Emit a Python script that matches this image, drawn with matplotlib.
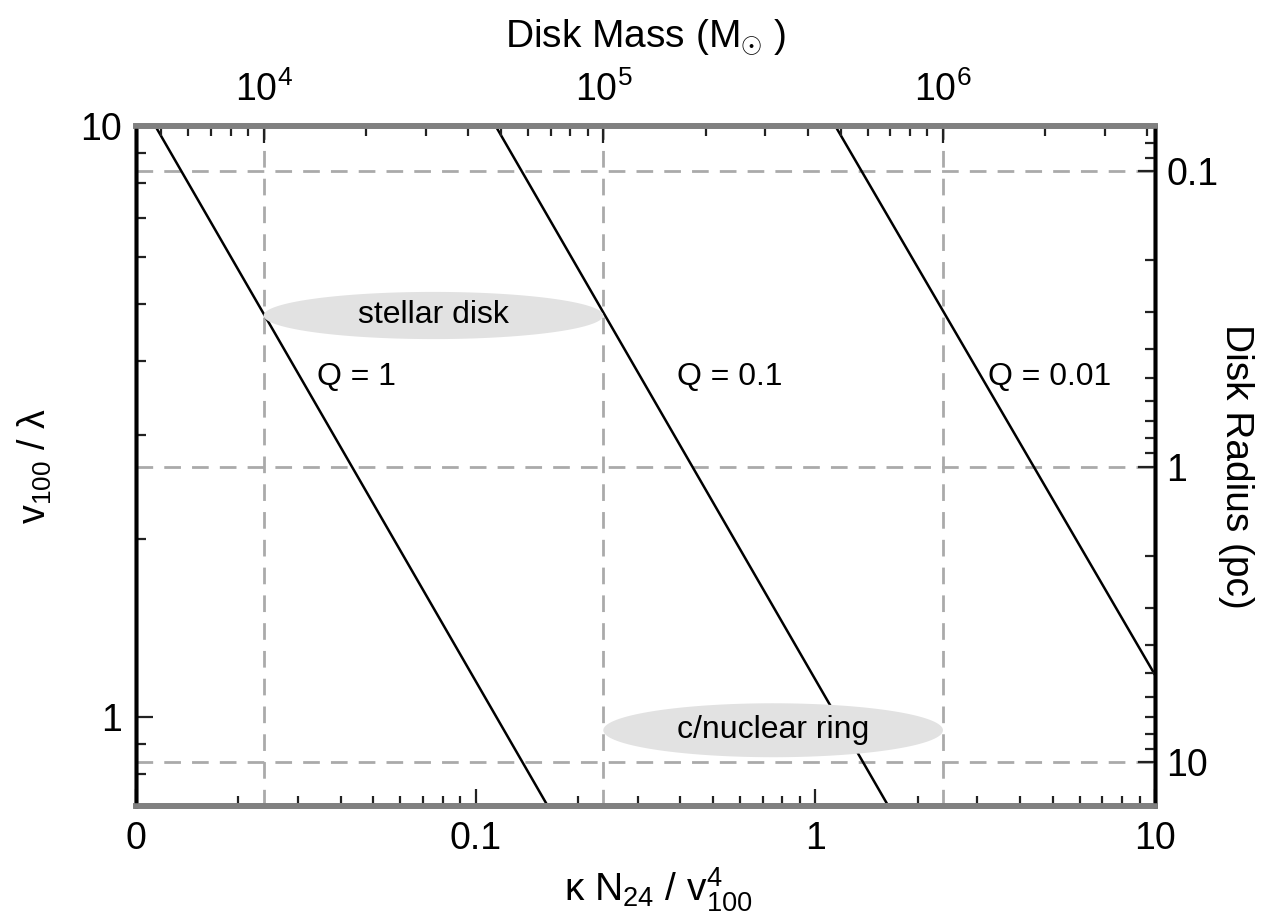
import numpy as np
import matplotlib
matplotlib.use("Agg")
import matplotlib.pyplot as plt
from matplotlib.ticker import NullFormatter, LogLocator

plt.rcParams['font.family'] = ['Liberation Sans', 'DejaVu Sans']
plt.rcParams['mathtext.fontset'] = 'custom'
plt.rcParams['mathtext.rm'] = 'Liberation Sans'
plt.rcParams['mathtext.it'] = 'Liberation Sans'
plt.rcParams['mathtext.bf'] = 'Liberation Sans:bold'

# ---- data ----
q_labels = ["Q = 1", "Q = 0.1", "Q = 0.01"]
q1_x = [0.0114, 0.163]
q1_y = [10.0, 0.707]
q01_x = [0.1145, 1.64]
q01_y = [10.0, 0.707]
q001_x = [1.145, 10.0]
q001_y = [10.0, 1.178]
q_label_x = [0.0447, 0.56, 4.91]
q_label_y = [3.76, 3.76, 3.76]

x_lim = (0.01, 10)
y_lim = (0.707, 10)
x_ticks = [0.01, 0.1, 1, 10]
x_ticklabels = ["0", "0.1", "1", "10"]
y_ticks = [1, 10]
y_ticklabels = ["1", "10"]

mass_ticks = [1e4, 1e5, 1e6]
mass_ticklabels = ["$10^4$", "$10^5$", "$10^6$"]
mass_per_x = 4.21e5          # disk mass per unit of x
radius_ticks = [0.1, 1, 10]
radius_ticklabels = ["0.1", "1", "10"]
radius_const = 2.65          # R = (radius_const / y)^2

regions = ["stellar disk", "c/nuclear ring"]
region_mass = [(1e4, 1e5), (1e5, 1e6)]    # extent in disk mass
region_y = [(4.36, 5.24), (0.855, 1.055)]  # extent in v/lambda

FS = 27
TICKC = '#222222'

# ---- figure ----
fig = plt.figure(figsize=(12.77, 9.24), dpi=100)
ax = fig.add_axes([0.1065, 0.1277, 0.798, 0.7359])
ax.set_xscale('log')
ax.set_yscale('log')
ax.set_xlim(*x_lim)
ax.set_ylim(*y_lim)

grid_kw = dict(color='#aaaaaa', lw=2.0, dashes=(6, 4), zorder=1)
for m in mass_ticks:
    ax.axvline(m / mass_per_x, **grid_kw)
for r in radius_ticks:
    ax.axhline(radius_const / np.sqrt(r), **grid_kw)

for xs, ys in [(q1_x, q1_y), (q01_x, q01_y), (q001_x, q001_y)]:
    ax.plot(xs, ys, color='black', lw=1.8, zorder=2)

t = np.linspace(0, 2 * np.pi, 200)
for name, (m0, m1), (y0, y1) in zip(regions, region_mass, region_y):
    lx0, lx1 = np.log10(m0 / mass_per_x), np.log10(m1 / mass_per_x)
    ly0, ly1 = np.log10(y0), np.log10(y1)
    cx, cy = (lx0 + lx1) / 2, (ly0 + ly1) / 2
    a, b = (lx1 - lx0) / 2, (ly1 - ly0) / 2
    ex = 10 ** (cx + a * np.cos(t))
    ey = 10 ** (cy + b * np.sin(t))
    ax.fill(ex, ey, color='#e2e2e2', lw=0, zorder=3)
    ax.text(10 ** cx, 10 ** cy, name, ha='center', va='center',
            fontsize=23, zorder=4)

for lab, lx, ly in zip(q_labels, q_label_x, q_label_y):
    ax.text(lx, ly, lab, ha='center', va='center', fontsize=23, zorder=4)

def style_ticks(a, pad):
    a.tick_params(which='both', direction='in', labelsize=FS, width=1.6,
                  color=TICKC, pad=pad)
    a.tick_params(which='major', length=12)
    a.tick_params(which='minor', length=7)

ax.set_xticks(x_ticks)
ax.set_xticklabels(x_ticklabels)
ax.set_yticks(y_ticks)
ax.set_yticklabels(y_ticklabels)
ax.xaxis.set_minor_formatter(NullFormatter())
ax.yaxis.set_minor_formatter(NullFormatter())
style_ticks(ax, 10)
ax.tick_params(axis='x', pad=11)

ax.set_xlabel("κ N$_{24}$ / v$^{4}_{100}$", fontsize=28)
ax.xaxis.set_label_coords(0.513, -0.088)
ax.set_ylabel("v$_{100}$ / λ", fontsize=27)
ax.yaxis.set_label_coords(-0.080, 0.5)

# top axis: disk mass
top = ax.twiny()
top.set_xscale('log')
top.set_xlim(x_lim[0] * mass_per_x, x_lim[1] * mass_per_x)
top.set_xticks(mass_ticks)
top.set_xticklabels(mass_ticklabels)
top.xaxis.set_minor_locator(LogLocator(base=10, subs=np.arange(2, 10)))
top.xaxis.set_minor_formatter(NullFormatter())
style_ticks(top, 12)
top.set_xlabel("Disk Mass (M$_{\\odot}$ )", fontsize=28, labelpad=18)

# right axis: disk radius (decreases upward)
right = ax.twinx()
right.set_yscale('log')
right.set_ylim((radius_const / y_lim[0]) ** 2, (radius_const / y_lim[1]) ** 2)
right.set_yticks(radius_ticks)
right.set_yticklabels(radius_ticklabels)
right.yaxis.set_minor_locator(LogLocator(base=10, subs=np.arange(2, 10)))
right.yaxis.set_minor_formatter(NullFormatter())
style_ticks(right, 8)
right.set_ylabel("Disk Radius (pc)", fontsize=28, rotation=270, labelpad=26)

for a in (ax, top, right):
    for s in ['top', 'bottom']:
        a.spines[s].set_linewidth(4)
        a.spines[s].set_color('#808080')
    for s in ['left', 'right']:
        a.spines[s].set_linewidth(2.5)
        a.spines[s].set_color('black')

fig.savefig("out.png", dpi=100)
